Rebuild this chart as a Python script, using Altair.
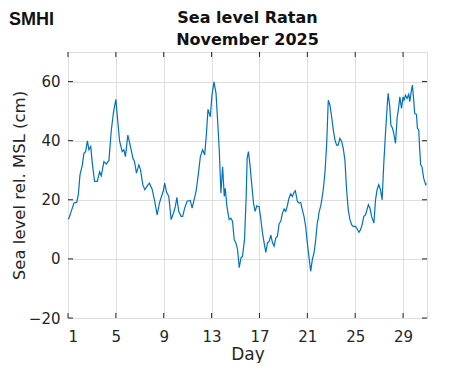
import altair as alt
import pandas as pd

days = [1.0, 1.08, 1.31, 1.5, 1.73, 1.87, 2.0, 2.2, 2.33, 2.47, 2.62, 2.75, 2.9, 3.03, 3.22, 3.45,
        3.64, 3.78, 4.0, 4.2, 4.42, 4.62, 4.81, 5.0, 5.1, 5.31, 5.53, 5.67, 5.8, 6.0, 6.22, 6.42,
        6.56, 6.72, 6.92, 7.06, 7.25, 7.42, 7.62, 7.8, 8.03, 8.25, 8.45, 8.64, 8.81, 8.95, 9.08,
        9.22, 9.42, 9.62, 9.83, 9.97, 10.1, 10.25, 10.45, 10.58, 10.75, 10.95, 11.22, 11.37, 11.5,
        11.7, 11.87, 12.06, 12.25, 12.42, 12.56, 12.7, 12.89, 13.03, 13.2, 13.37, 13.5, 13.64,
        13.78, 13.92, 14.06, 14.14, 14.28, 14.47, 14.61, 14.75, 14.89, 15.03, 15.17, 15.31, 15.45,
        15.58, 15.75, 15.89, 15.97, 16.08, 16.22, 16.37, 16.5, 16.64, 16.78, 16.97, 17.12, 17.25,
        17.39, 17.53, 17.67, 17.81, 17.95, 18.08, 18.22, 18.37, 18.5, 18.64, 18.78, 18.92, 19.06,
        19.2, 19.33, 19.47, 19.61, 19.75, 19.89, 20.0, 20.17, 20.31, 20.45, 20.58, 20.72, 20.86,
        20.97, 21.08, 21.28, 21.42, 21.56, 21.7, 21.83, 21.92, 21.97, 22.14, 22.33, 22.47, 22.62,
        22.75, 22.89, 23.03, 23.17, 23.31, 23.45, 23.58, 23.72, 23.87, 24.0, 24.14, 24.28, 24.42,
        24.56, 24.7, 24.83, 25.03, 25.17, 25.31, 25.45, 25.58, 25.72, 25.86, 25.98, 26.1, 26.23,
        26.37, 26.56, 26.7, 26.83, 26.97, 27.11, 27.25, 27.39, 27.53, 27.67, 27.75, 27.89, 27.98,
        28.12, 28.22, 28.37, 28.5, 28.64, 28.73, 28.87, 29.0, 29.08, 29.2, 29.33, 29.47, 29.56,
        29.7, 29.78, 29.89, 29.97, 30.12, 30.2, 30.31, 30.39, 30.47, 30.58, 30.72, 30.89, 30.96]
levels = [13.5, 13.8, 16.6, 18.9, 19.1, 22.0, 28.4, 31.8, 35.7, 36.3, 39.9, 36.9, 38.0, 32.4, 26.2, 26.2,
          29.5, 28.1, 32.9, 32.1, 33.3, 43.6, 49.8, 54.0, 49.2, 39.9, 36.3, 36.9, 34.6, 41.9, 38.0, 34.1,
          32.9, 29.0, 31.8, 30.1, 25.1, 23.4, 24.7, 25.6, 23.6, 19.4, 14.9, 18.9, 21.1, 22.8, 25.6,
          22.8, 21.1, 13.3, 15.7, 17.7, 20.8, 16.1, 14.4, 14.4, 17.2, 19.5, 19.8, 17.2, 19.4,
          22.8, 27.9, 34.6, 36.9, 35.2, 41.9, 50.6, 48.1, 55.4, 59.9, 56.0, 47.0, 36.9,
          22.3, 31.2, 21.1, 23.9, 17.7, 13.3, 13.8, 12.7, 6.5, 5.4, 3.1, -3.0, 0.3,
          0.9, 6.5, 21.1, 34.1, 36.3, 31.2, 24.5, 18.9, 16.1, 18.0, 17.7, 13.3, 8.8,
          5.4, 2.2, 5.4, 5.9, 8.0, 5.6, 4.3, 7.1, 7.6, 11.9, 12.7, 15.5, 16.9,
          16.1, 18.0, 20.6, 22.0, 21.1, 22.5, 23.0, 19.4, 18.9, 19.1, 16.6, 14.4, 11.0,
          6.5, 2.6, -4.2, -0.2, 2.0, 6.5, 12.1, 13.8, 15.7, 18.3, 23.4, 29.0, 39.1,
          53.7, 52.0, 48.1, 43.6, 40.2, 38.5, 38.5, 40.8, 39.7, 37.4, 33.5, 23.4, 16.6,
          13.3, 11.6, 11.0, 11.0, 10.1, 9.0, 9.9, 11.6, 14.4, 14.9, 16.6, 18.3, 17.2,
          14.4, 12.1, 20.0, 23.4, 25.1, 23.4, 20.0, 32.4, 42.5, 51.5, 56.0, 51.5, 45.3,
          44.2, 42.5, 39.1, 47.6, 51.5, 54.8, 50.9, 54.8, 53.7, 55.4, 54.3, 55.7, 53.2,
          57.1, 58.8, 53.7, 49.2, 48.9, 44.2, 43.6, 36.9, 31.8, 31.2, 27.3, 25.1, 25.5]

x_ticks = [1, 5, 9, 13, 17, 21, 25, 29]
y_ticks = [-20, 0, 20, 40, 60]
title_lines = ["Sea level Ratan", "November 2025"]
logo_text = "SMHI"

FONT = "DejaVu Sans"
AX = "#262626"
GRID = "#dedede"
W, H = 359, 266

df = pd.DataFrame({"day": days, "level": levels})
xt = pd.DataFrame({"t": x_ticks})
yt = pd.DataFrame({"t": y_ticks})
one = pd.DataFrame({"k": [0]})

xscale = alt.Scale(domain=[1, 31], nice=False, zero=False)
yscale = alt.Scale(domain=[-20, 70], nice=False, zero=False)

line = alt.Chart(df).mark_line(color="#0072BD", strokeWidth=1.2).encode(
    x=alt.X("day:Q", scale=xscale,
            axis=alt.Axis(values=x_ticks, title="Day", grid=True, gridColor=GRID,
                          tickSize=0, domain=False, labelFont=FONT, labelFontSize=15,
                          labelColor=AX, labelPadding=11, titleFont=FONT, titleFontSize=17,
                          titleFontWeight="normal", titleColor=AX, titlePadding=2)),
    y=alt.Y("level:Q", scale=yscale,
            axis=alt.Axis(values=y_ticks, title="Sea level rel. MSL (cm)", grid=True,
                          gridColor=GRID, tickSize=0, domain=False, labelFont=FONT,
                          labelFontSize=15, labelColor=AX, labelPadding=8, titleFont=FONT,
                          titleFontSize=16.5, titleFontWeight="normal", titleColor=AX,
                          titlePadding=1)),
)

TL = 5
left_ticks = alt.Chart(yt).mark_rule(color=AX, strokeWidth=1).encode(
    y=alt.Y("t:Q", scale=yscale), x=alt.value(0), x2=alt.value(TL))
right_ticks = alt.Chart(yt).mark_rule(color=AX, strokeWidth=1).encode(
    y=alt.Y("t:Q", scale=yscale), x=alt.value(W - TL), x2=alt.value(W))
bottom_ticks = alt.Chart(xt).mark_rule(color=AX, strokeWidth=1).encode(
    x=alt.X("t:Q", scale=xscale), y=alt.value(H), y2=alt.value(H - TL))
top_ticks = alt.Chart(xt).mark_rule(color=AX, strokeWidth=1).encode(
    x=alt.X("t:Q", scale=xscale), y=alt.value(0), y2=alt.value(TL))

title = alt.Chart(one).mark_text(
    text=title_lines, font=FONT, fontWeight="bold", fontSize=16, lineHeight=22,
    align="center", baseline="alphabetic", color="#111111"
).encode(x=alt.value(W / 2), y=alt.value(-29))

logo = alt.Chart(one).mark_text(
    text=logo_text, font="Liberation Sans", fontWeight="bold", fontSize=18, align="left",
    baseline="alphabetic", color="#111111"
).encode(x=alt.value(-59), y=alt.value(-27))

chart = alt.layer(line, left_ticks, right_ticks, bottom_ticks, top_ticks, title, logo).properties(
    width=W, height=H,
    autosize=alt.AutoSizeParams(type="none"),
    padding={"left": 60, "top": 44, "right": 36, "bottom": 45},
).configure_view(stroke=AX, strokeWidth=1.2).configure(background="white")

chart.save("out.html", embed_options={"renderer": "svg", "actions": False})
